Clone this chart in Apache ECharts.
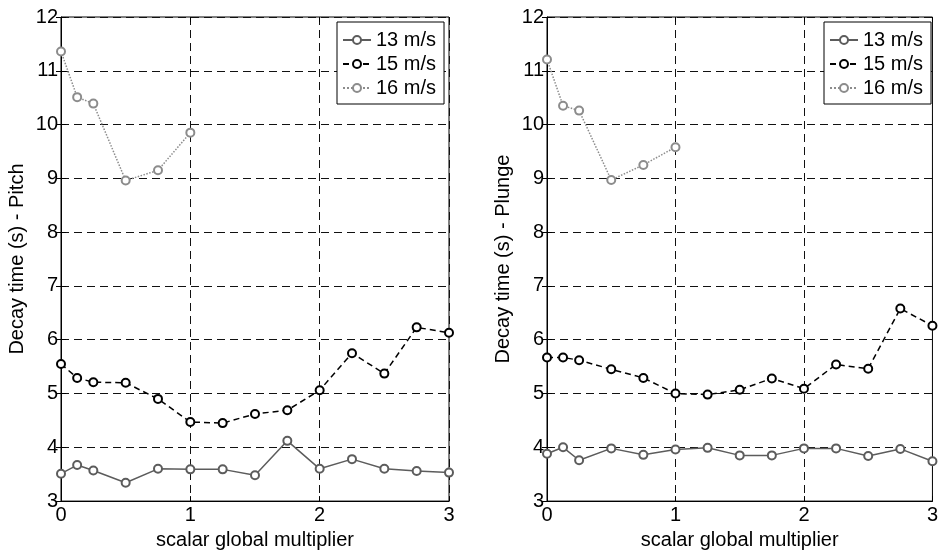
<!DOCTYPE html>
<html>
<head>
<meta charset="utf-8">
<script src="https://cdn.jsdelivr.net/npm/echarts@6/dist/echarts.min.js"></script>
<style>
  html,body{margin:0;padding:0;background:#fff;}
  #chart{width:941px;height:555px;}
</style>
</head>
<body>
<div id="chart"></div>
<script>
  // x positions (scalar global multiplier)
  var xAll = [0, 0.125, 0.25, 0.5, 0.75, 1, 1.25, 1.5, 1.75, 2, 2.25, 2.5, 2.75, 3];
  var x16 = [0, 0.125, 0.25, 0.5, 0.75, 1];

  // pitch
  var pitch13 = [3.51, 3.67, 3.57, 3.34, 3.60, 3.59, 3.59, 3.48, 4.12, 3.60, 3.78, 3.60, 3.56, 3.53];
  var pitch15 = [5.55, 5.29, 5.21, 5.20, 4.90, 4.47, 4.45, 4.62, 4.69, 5.06, 5.75, 5.37, 6.23, 6.13];
  var pitch16 = [11.36, 10.51, 10.39, 8.96, 9.15, 9.85];

  // plunge
  var plunge13 = [3.88, 4.00, 3.76, 3.98, 3.86, 3.96, 3.99, 3.85, 3.85, 3.98, 3.98, 3.84, 3.97, 3.74];
  var plunge15 = [5.67, 5.67, 5.62, 5.45, 5.29, 5.00, 4.98, 5.07, 5.28, 5.09, 5.54, 5.46, 6.58, 6.26];
  var plunge16 = [11.21, 10.35, 10.26, 8.97, 9.25, 9.58];

  var names = ['13 m/s', '15 m/s', '16 m/s'];
  var yTitles = ['Decay time (s) - Pitch', 'Decay time (s) - Plunge'];
  var xTitle = 'scalar global multiplier';

  var font = 'Liberation Sans, Arial, sans-serif';

  function pairs(xs, ys){
    return ys.map(function(v, i){ return [xs[i], v]; });
  }

  var chart = echarts.init(document.getElementById('chart'), null, {renderer:'canvas'});

  var grids = [
    {left:61, top:17, width:388, height:490, show:true, borderColor:'#000', borderWidth:1, backgroundColor:'transparent'},
    {left:547, top:17, width:389, height:490, show:true, borderColor:'#000', borderWidth:1, backgroundColor:'transparent'}
  ];

  var xAxes = [], yAxes = [];
  [0,1].forEach(function(g){
    xAxes.push({
      gridIndex:g, type:'value', min:0, max:3, interval:1,
      name:xTitle, nameLocation:'middle', nameGap:28,
      nameTextStyle:{color:'#000', fontSize:20, fontFamily:font},
      axisLine:{show:true, lineStyle:{color:'#000', width:1}},
      axisTick:{show:true, inside:true, length:5, lineStyle:{color:'#000'}},
      axisLabel:{color:'#000', fontSize:20, fontFamily:font, margin:4},
      splitLine:{show:true, lineStyle:{color:'#111', width:1, type:[8,5]}}
    });
    xAxes.push({
      gridIndex:g, type:'value', min:0, max:3, interval:1, position:'top',
      axisLine:{show:false}, axisLabel:{show:false}, splitLine:{show:false},
      axisTick:{show:true, inside:true, length:5, lineStyle:{color:'#000'}}
    });
    yAxes.push({
      gridIndex:g, type:'value', min:3, max:12, interval:1,
      name:yTitles[g], nameLocation:'middle', nameGap:34, nameRotate:90,
      nameTextStyle:{color:'#000', fontSize:20, fontFamily:font},
      axisLine:{show:true, lineStyle:{color:'#000', width:1}},
      axisTick:{show:true, inside:true, length:5, lineStyle:{color:'#000'}},
      axisLabel:{color:'#000', fontSize:20, fontFamily:font, margin:3},
      splitLine:{show:true, lineStyle:{color:'#111', width:1, type:[8,5]}}
    });
    yAxes.push({
      gridIndex:g, type:'value', min:3, max:12, interval:1, position:'right',
      axisLine:{show:false}, axisLabel:{show:false}, splitLine:{show:false},
      axisTick:{show:true, inside:true, length:5, lineStyle:{color:'#000'}}
    });
  });

  var styles = [
    {color:'#5c5c5c', type:'solid'},
    {color:'#000000', type:[6,4]},
    {color:'#8c8c8c', type:'dotted'}
  ];

  function mk(name, g, data, st){
    return {
      name:name, type:'line', xAxisIndex:g*2, yAxisIndex:g*2,
      data:data, symbol:'emptyCircle', symbolSize:8,
      lineStyle:{color:st.color, width:1.5, type:st.type},
      itemStyle:{color:st.color, borderColor:st.color, borderWidth:1.5},
      animation:false, z:5
    };
  }

  var series = [
    mk(names[0], 0, pairs(xAll, pitch13), styles[0]),
    mk(names[1], 0, pairs(xAll, pitch15), styles[1]),
    mk(names[2], 0, pairs(x16, pitch16), styles[2]),
    mk(names[0], 1, pairs(xAll, plunge13), styles[0]),
    mk(names[1], 1, pairs(xAll, plunge15), styles[1]),
    mk(names[2], 1, pairs(x16, plunge16), styles[2])
  ];

  function legendAt(left){
    return {
      orient:'vertical', left:left, top:22, data:names,
      backgroundColor:'#fff', borderColor:'#000', borderWidth:1,
      padding:[6, 8, 4, 5], itemGap:0, itemWidth:28, itemHeight:10,
      selectedMode:false,
      textStyle:{color:'#000', fontSize:20, fontFamily:font, lineHeight:24, height:24}
    };
  }

  chart.setOption({
    animation:false,
    grid:grids,
    xAxis:xAxes,
    yAxis:yAxes,
    legend:[legendAt(337), legendAt(824)],
    series:series
  });
</script>
</body>
</html>
